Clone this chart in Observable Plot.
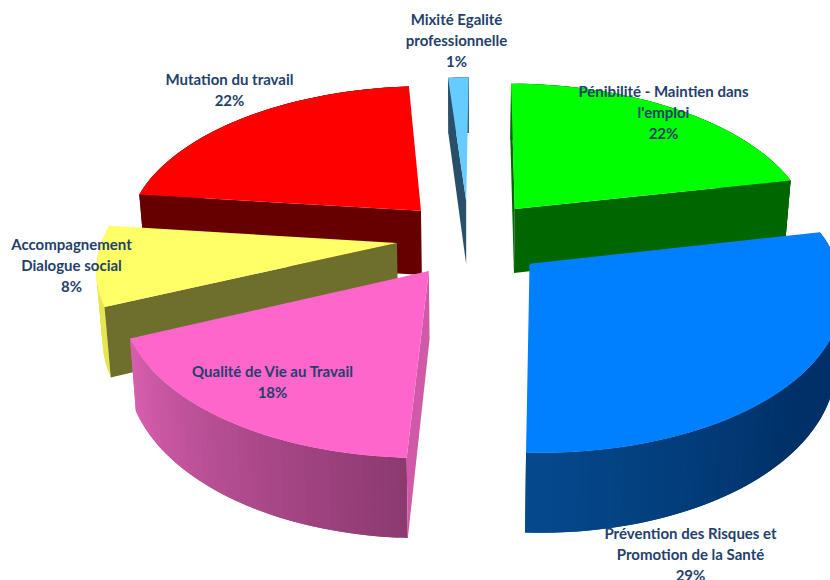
<!DOCTYPE html>
<html lang="fr">
<head>
<meta charset="utf-8">
<script src="https://cdn.jsdelivr.net/npm/d3@7"></script>
<script src="https://cdn.jsdelivr.net/npm/@observablehq/plot@0.6"></script>
<style>
html,body{margin:0;padding:0;background:#fff}
svg{display:block}
</style>
</head>
<body>
<div id="chart"></div>
<script>
// ---- chart values (clockwise from the top of the pie) ----
const categories = [
  "Pénibilité - Maintien dans\nl'emploi",
  "Prévention des Risques et\nPromotion de la Santé",
  "Qualité de Vie au Travail",
  "Accompagnement\nDialogue social",
  "Mutation du travail",
  "Mixité Egalité\nprofessionnelle"
];
const shares = [21.6, 28.9, 17.8, 8.4, 22, 1.3];
const firstAngle = 0.5; // degrees

// ---- appearance, per slice ----
const topColors  = ["#00ff00", "#0080ff", "#ff66cc", "#ffff66", "#ff0000", "#66ccff"];
const faceColors = ["#006600", null, "#d05aa8", "#6f6f2d", "#660000", "#29506b"];
const faceSides  = [["start", "end"], [], ["start"], ["start"], ["start"], ["start"]];
const wallFrom   = ["#006600", "#003067", "#8c3a70", "#e6e650", "#660000", "#29506b"];
const wallTo     = ["#006600", "#05498d", "#d85fb0", "#e6e650", "#660000", "#29506b"];
const wallHold   = [0, 0.5, 0, 0, 0, 0];
const explode    = [0.25, 0.26, 0.25, 0.24, 0.25, 0.25];
const radius     = [1, 1, 0.98, 0.98, 0.99, 1];
const nudgeX     = [0, 0, 4, 0, 3, 0];
const nudgeY     = [0, 0, 1, 0, 0, 0];
const labelX     = [663, 690, 272, 71, 229, 456];
const labelY     = [82, 524, 362, 235, 70, 10];
const paintOrder = [5, 0, 4, 3, 2, 1];

// ---- 3D view of the pie ----
const cx = 468, cy = 237, k = 300, A = 152, p = 0.15, H = 66, squeeze = 0.983;
const project = (X, Z, low, i) => {
  const s = 1 / (1 - p * Z);
  return {
    x: cx + nudgeX[i] + k * X * s * (low ? squeeze : 1),
    y: cy + nudgeY[i] + A * Z * s + (low ? H * s : 0)
  };
};

const total = d3.sum(shares);
let running = 0;
const rad = d => d * Math.PI / 180;
const slices = shares.map((v, i) => {
  const a0 = rad(firstAngle) + running / total * 2 * Math.PI;
  running += v;
  const a1 = rad(firstAngle) + running / total * 2 * Math.PI;
  const mid = (a0 + a1) / 2;
  return {i, a0, a1, ox: explode[i] * Math.sin(mid), oz: -explode[i] * Math.cos(mid)};
});

const polys = [];
let pid = 0;
const addPoly = (pts, color) => {
  const id = pid++;
  pts.forEach(q => polys.push({id, x: q.x, y: q.y, color}));
};
const rim = (s, a, low) =>
  project(s.ox + radius[s.i] * Math.sin(a), s.oz - radius[s.i] * Math.cos(a), low, s.i);

for (const idx of paintOrder) {
  const s = slices[idx];
  const n = Math.max(4, Math.round((s.a1 - s.a0) * 40));
  const angles = d3.range(n + 1).map(j => s.a0 + (s.a1 - s.a0) * j / n);
  const shade = d3.interpolateRgb(wallFrom[idx], wallTo[idx]);
  // outer wall, in thin overlapping strips to carry the shading
  for (let j = 0; j < n; j++) {
    const far = angles[Math.min(j + 2, n)];
    const t = Math.max(0, (j / (n - 1) - wallHold[idx]) / (1 - wallHold[idx]));
    addPoly([
      rim(s, angles[j], false), rim(s, far, false),
      rim(s, far, true), rim(s, angles[j], true)
    ], shade(t));
  }
  // radial cut faces
  for (const side of faceSides[idx]) {
    const a = side === "start" ? s.a0 : s.a1;
    addPoly([
      project(s.ox, s.oz, false, idx), rim(s, a, false),
      rim(s, a, true), project(s.ox, s.oz, true, idx)
    ], faceColors[idx]);
  }
  // top
  addPoly([project(s.ox, s.oz, false, idx), ...angles.map(a => rim(s, a, false))], topColors[idx]);
}

const labels = categories.map((c, i) => ({
  text: c + "\n" + Math.round(shares[i]) + "%",
  x: labelX[i],
  y: labelY[i]
}));

const chart = Plot.plot({
  width: 830,
  height: 580,
  margin: 0,
  x: {domain: [0, 830], range: [0, 830], axis: null},
  y: {domain: [0, 580], range: [0, 580], axis: null},
  color: {type: "identity"},
  style: {background: "#fff"},
  marks: [
    Plot.line(polys, {
      x: "x", y: "y", z: "id",
      fill: "color", stroke: "none",
      curve: "linear-closed"
    }),
    Plot.text(labels, {
      x: "x", y: "y", text: "text",
      textAnchor: "middle", lineAnchor: "top", lineHeight: 1.4,
      fontFamily: "Lato", fontWeight: 700, fontSize: 15,
      fill: "#243f6b"
    })
  ]
});
document.getElementById("chart").appendChild(chart);
</script>
</body>
</html>
